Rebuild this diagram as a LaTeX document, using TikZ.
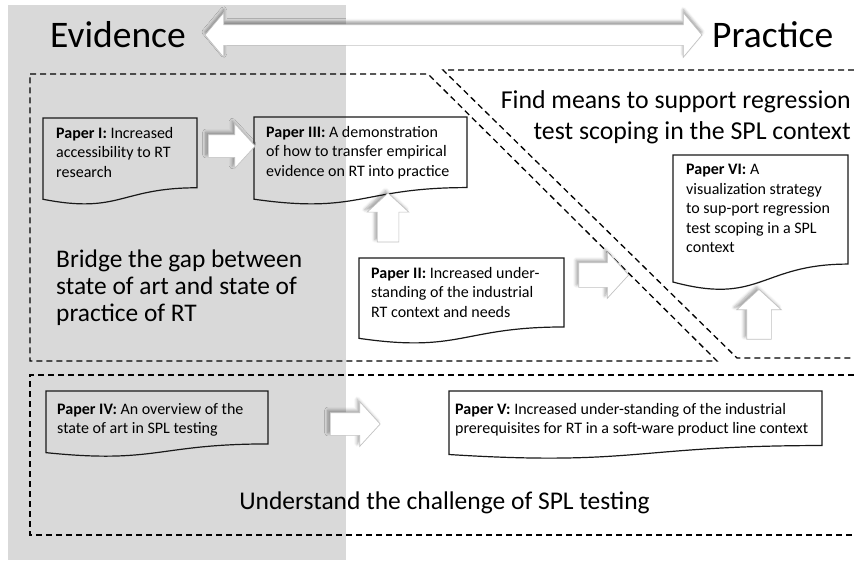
\documentclass[tikz,border=0pt]{standalone}
\usepackage{fontspec}
\setmainfont{Carlito}
\usetikzlibrary{shapes.arrows,shadows.blur,calc}
\definecolor{bggray}{RGB}{217,217,217}
\definecolor{arrowline}{RGB}{195,195,195}

% document symbol with a wavy lower edge, drawn around an empty box node
\newcommand\docoutline[1]{%
  \draw[docline] (#1.north west) -- (#1.north east)
    -- ($(#1.north east)!0.802!(#1.south east)$)
    .. controls ($(#1.north)!0.802!(#1.south)$) and ($(#1.north)!1.107!(#1.south)$)
    .. ($(#1.north west)!0.934!(#1.south west)$) -- cycle;}

\begin{document}
\begin{tikzpicture}[x=1pt,y=-1pt,
  region/.style={draw=black, line width=1.3pt, dash pattern=on 6pt off 4pt},
  docline/.style={draw=black!90, line width=1.2pt, line join=miter},
  docbox/.style={rectangle, draw=none, inner sep=0pt, outer sep=0pt, anchor=north west},
  doctext/.style={font=\fontsize{16}{19.5}\selectfont, align=left, inner sep=0pt, anchor=north west},
  softshadow/.style={blur shadow={shadow xshift=-2.5pt, shadow yshift=2.5pt,
    shadow blur radius=3pt, shadow opacity=35}},
  blockarrow/.style={single arrow, draw=arrowline, line width=0.7pt, fill=white,
    inner sep=11pt, single arrow tip angle=95, single arrow head extend=11pt, softshadow},
  bigtext/.style={inner sep=0pt},
]
\useasboundingbox (0,0) rectangle (854,560);

% evidence side band
\fill[bggray] (8,5) rectangle (346,560);

% dashed regions
\draw[region] (30,74) -- (428,74) -- (717,361) -- (30,361) -- cycle;
\draw[region] (854,70) -- (443,70) -- (737,358) -- (854,358);
\draw[region] (854,375) -- (30,375) -- (30,535) -- (854,535);

% headings and the evidence/practice arrow
\node[bigtext, font=\fontsize{37.5}{40}\selectfont, anchor=base west] (evid) at (50,47) {Evidence};
\node[bigtext, font=\fontsize{37.5}{40}\selectfont, anchor=base west] (pract) at (712,47) {Practice};
\node[double arrow, draw=arrowline, line width=0.7pt, fill=white, inner sep=10pt,
  minimum height=497pt, double arrow head extend=12pt, double arrow tip angle=100,
  blur shadow={shadow xshift=0pt, shadow yshift=3pt, shadow blur radius=3pt, shadow opacity=40}]
  (bridgearrow) at (453.5,35) {};

% region titles
\node[bigtext, font=\fontsize{25.4}{27}\selectfont, align=left, anchor=north west] (gap) at (56,250)
  {Bridge the gap between\\state of art and state of\\practice of RT};
\node[bigtext, font=\fontsize{25.8}{31.5}\selectfont, align=right, anchor=north east] (scope) at (851,90)
  {Find means to support regression\\test scoping in the SPL context};
\node[bigtext, font=\fontsize{25.5}{30}\selectfont, anchor=base] (chal) at (444.5,509)
  {Understand the challenge of SPL testing};

% papers
\node[docbox, minimum width=154pt, minimum height=87pt] (p1) at (43,118) {};
\node[doctext] (p1t) at ([xshift=13pt,yshift=-9pt]p1.north west)
  {\textbf{Paper I:} Increased\\accessibility to RT\\research};
\docoutline{p1}

\node[docbox, minimum width=213pt, minimum height=88pt] (p3) at (254,117) {};
\node[doctext] (p3t) at ([xshift=12pt,yshift=-9pt]p3.north west)
  {\textbf{Paper III:} A demonstration\\of how to transfer empirical\\evidence on RT into practice};
\docoutline{p3}

\node[docbox, minimum width=205pt, minimum height=86pt] (p2) at (359,258) {};
\node[doctext] (p2t) at ([xshift=12pt,yshift=-9pt]p2.north west)
  {\textbf{Paper II:} Increased under-\\standing of the industrial\\RT context and needs};
\docoutline{p2}

\node[docbox, minimum width=175pt, minimum height=136pt] (p6) at (673,155) {};
\node[doctext] (p6t) at ([xshift=13pt,yshift=-9pt]p6.north west)
  {\textbf{Paper VI:} A\\visualization strategy\\to sup-port regression\\test scoping in a SPL\\context};
\docoutline{p6}

\node[docbox, minimum width=222pt, minimum height=66pt] (p4) at (46,391) {};
\node[doctext] (p4t) at ([xshift=11pt,yshift=-12pt]p4.north west)
  {\textbf{Paper IV:} An overview of the\\state of art in SPL testing};
\docoutline{p4}

\node[docbox, minimum width=373pt, minimum height=68pt] (p5) at (449,391) {};
\node[doctext] (p5t) at ([xshift=6pt,yshift=-12pt]p5.north west)
  {\textbf{Paper V:} Increased under-standing of the industrial\\prerequisites for RT in a soft-ware product line context};
\docoutline{p5}

% block arrows between the papers
\node[blockarrow, minimum height=47pt] (a13) at (226.5,146) {};
\node[blockarrow, shape border rotate=90, minimum height=49pt, inner sep=10.5pt,
  single arrow head extend=10pt] (a23) at (388,222.5) {};
\node[blockarrow, minimum height=50pt, inner sep=12pt] (a26) at (598,275) {};
\node[blockarrow, shape border rotate=90, minimum height=50pt, inner sep=12pt,
  single arrow head extend=10pt] (a6) at (759,320) {};
\node[blockarrow, minimum height=50pt] (a45) at (350,424) {};
\end{tikzpicture}
\end{document}
